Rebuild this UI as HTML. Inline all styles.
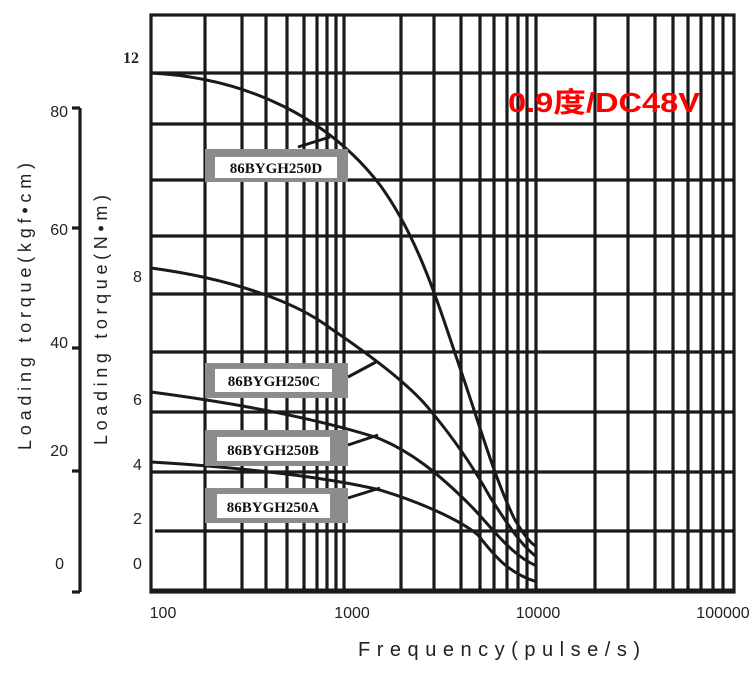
<!DOCTYPE html>
<html><head><meta charset="utf-8"><style>
body{margin:0;background:#fff;}
svg{display:block;}
</style></head><body>
<svg width="750" height="676" viewBox="0 0 750 676" xmlns="http://www.w3.org/2000/svg">
<g stroke="#1a1a1a" stroke-width="3.2" fill="none">
<rect x="151" y="15" width="583" height="577"/>
<line x1="151" y1="73" x2="734" y2="73"/>
<line x1="151" y1="124" x2="734" y2="124"/>
<line x1="151" y1="180" x2="734" y2="180"/>
<line x1="151" y1="236" x2="734" y2="236"/>
<line x1="151" y1="294" x2="734" y2="294"/>
<line x1="151" y1="352" x2="734" y2="352"/>
<line x1="151" y1="412" x2="734" y2="412"/>
<line x1="151" y1="472" x2="734" y2="472"/>
<line x1="155" y1="531" x2="734" y2="531"/>
<line x1="151" y1="591" x2="734" y2="591" stroke-width="5"/>
<line x1="205" y1="15" x2="205" y2="591"/>
<line x1="242" y1="15" x2="242" y2="591"/>
<line x1="266" y1="15" x2="266" y2="591"/>
<line x1="287" y1="15" x2="287" y2="591"/>
<line x1="304" y1="15" x2="304" y2="591"/>
<line x1="317" y1="15" x2="317" y2="591"/>
<line x1="327" y1="15" x2="327" y2="591"/>
<line x1="336" y1="15" x2="336" y2="591"/>
<line x1="344" y1="15" x2="344" y2="591"/>
<line x1="401" y1="15" x2="401" y2="591"/>
<line x1="434" y1="15" x2="434" y2="591"/>
<line x1="461" y1="15" x2="461" y2="591"/>
<line x1="480" y1="15" x2="480" y2="591"/>
<line x1="494" y1="15" x2="494" y2="591"/>
<line x1="507" y1="15" x2="507" y2="591"/>
<line x1="518" y1="15" x2="518" y2="591"/>
<line x1="527" y1="15" x2="527" y2="591"/>
<line x1="536" y1="15" x2="536" y2="591"/>
<line x1="595" y1="15" x2="595" y2="591"/>
<line x1="628" y1="15" x2="628" y2="591"/>
<line x1="655" y1="15" x2="655" y2="591"/>
<line x1="673" y1="15" x2="673" y2="591"/>
<line x1="688" y1="15" x2="688" y2="591"/>
<line x1="701" y1="15" x2="701" y2="591"/>
<line x1="713" y1="15" x2="713" y2="591"/>
<line x1="723" y1="15" x2="723" y2="591"/>
<line x1="80" y1="108" x2="80" y2="592"/>
<line x1="72" y1="108" x2="80" y2="108"/>
<line x1="72" y1="228" x2="80" y2="228"/>
<line x1="72" y1="348" x2="80" y2="348"/>
<line x1="72" y1="471" x2="80" y2="471"/>
<line x1="72" y1="592" x2="80" y2="592"/>
</g>
<g stroke="#1a1a1a" stroke-width="3" fill="none">
<path d="M151,73 C250,78 330,120 380,185 C420,240 440,310 460,368 C478,420 495,480 515,520 C524,535 530,543 537,547"/>
<path d="M151,268 C240,280 300,305 330,328 C370,355 410,385 430,410 C455,440 475,470 490,497 C505,520 520,545 537,557"/>
<path d="M151,392 C250,405 320,420 375,437 C410,450 440,475 470,505 C490,525 510,555 537,566"/>
<path d="M151,462 C250,468 330,478 380,490 C420,502 460,520 478,535 C492,552 505,572 537,582"/>
<line x1="298" y1="147" x2="330" y2="137"/>
<line x1="348" y1="377" x2="376" y2="362"/>
<line x1="348" y1="445" x2="378" y2="435"/>
<line x1="348" y1="498" x2="380" y2="488"/>
</g>
<g>
<rect x="205" y="149" width="143" height="33" fill="#8c8c8c"/><rect x="215" y="157" width="122" height="21" fill="#fff"/>
<rect x="205" y="363" width="143" height="35" fill="#8c8c8c"/><rect x="215" y="369" width="117" height="23" fill="#fff"/>
<rect x="205" y="430" width="143" height="36" fill="#8c8c8c"/><rect x="217" y="437" width="113" height="24" fill="#fff"/>
<rect x="205" y="488" width="143" height="35" fill="#8c8c8c"/><rect x="217" y="494" width="113" height="24" fill="#fff"/>
</g>
<g font-family="'Liberation Serif',serif" font-weight="bold" font-size="15" fill="#111" text-anchor="middle">
<text x="276" y="173">86BYGH250D</text>
<text x="274" y="386">86BYGH250C</text>
<text x="273" y="455">86BYGH250B</text>
<text x="273" y="512">86BYGH250A</text>
</g>
<text x="508" y="112" font-family="'Liberation Sans','Noto Sans CJK SC',sans-serif" font-weight="bold" font-size="28" fill="#ff0000" textLength="192" lengthAdjust="spacingAndGlyphs">0.9度/DC48V</text>
<g font-family="'Liberation Sans',sans-serif" font-size="16" fill="#222">
<text x="123" y="63" font-family="'Liberation Serif',serif" font-weight="bold">12</text>
<text x="133" y="282">8</text>
<text x="133" y="405">6</text>
<text x="133" y="470">4</text>
<text x="133" y="524">2</text>
<text x="133" y="569">0</text>
<text x="68" y="117" text-anchor="end">80</text>
<text x="68" y="235" text-anchor="end">60</text>
<text x="68" y="348" text-anchor="end">40</text>
<text x="68" y="456" text-anchor="end">20</text>
<text x="64" y="569" text-anchor="end">0</text>
<text x="163" y="618" text-anchor="middle">100</text>
<text x="352" y="618" text-anchor="middle">1000</text>
<text x="538" y="618" text-anchor="middle">10000</text>
<text x="723" y="618" text-anchor="middle">100000</text>
</g>
<g font-family="'Liberation Sans',sans-serif" fill="#222">
<text x="358" y="656" font-size="20" textLength="282" lengthAdjust="spacing">Frequency(pulse/s)</text>
<text transform="translate(31,450) rotate(-90)" font-size="18" textLength="287" lengthAdjust="spacing">Loading torque(kgf•cm)</text>
<text transform="translate(107,445) rotate(-90)" font-size="18" textLength="250" lengthAdjust="spacing">Loading torque(N•m)</text>
</g>
</svg>
</body></html>
